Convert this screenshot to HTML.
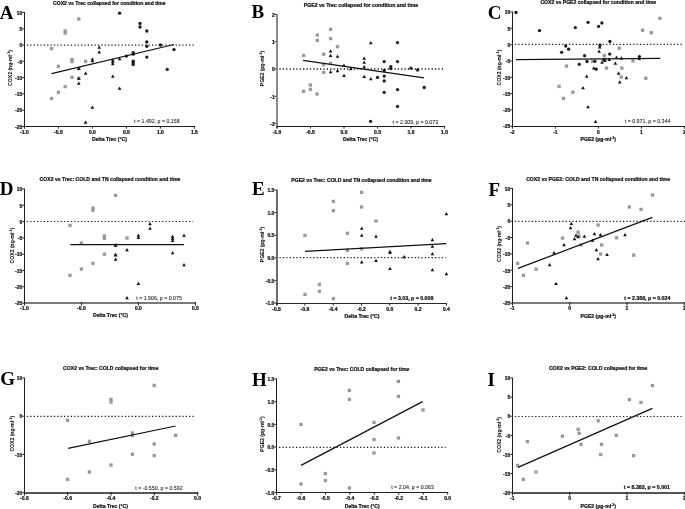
<!DOCTYPE html>
<html><head><meta charset="utf-8"><title>Figure</title>
<style>
html,body{margin:0;padding:0;background:#fff;}
body{width:685px;height:509px;overflow:hidden;font-family:"Liberation Sans",sans-serif;}
svg{display:block;filter:grayscale(1);}
text{font-family:"Liberation Sans",sans-serif;}
</style></head><body>
<svg width="685" height="509" viewBox="0 0 685 509" font-family="Liberation Sans, sans-serif">
<rect width="685" height="509" fill="#fff"/>
<line x1="26.90" y1="45.10" x2="194.00" y2="45.10" stroke="#111" stroke-width="1.2" stroke-dasharray="1.2 2.18"/>
<rect x="49.95" y="46.95" width="3.3" height="3.3" fill="#999"/>
<rect x="77.15" y="17.35" width="3.3" height="3.3" fill="#999"/>
<rect x="63.55" y="29.35" width="3.3" height="3.3" fill="#999"/>
<rect x="63.55" y="31.35" width="3.3" height="3.3" fill="#999"/>
<rect x="56.75" y="64.75" width="3.3" height="3.3" fill="#999"/>
<rect x="70.35" y="57.95" width="3.3" height="3.3" fill="#999"/>
<rect x="70.35" y="59.95" width="3.3" height="3.3" fill="#999"/>
<rect x="83.95" y="59.65" width="3.3" height="3.3" fill="#999"/>
<rect x="70.35" y="75.75" width="3.3" height="3.3" fill="#999"/>
<rect x="63.55" y="84.95" width="3.3" height="3.3" fill="#999"/>
<rect x="56.75" y="90.65" width="3.3" height="3.3" fill="#999"/>
<rect x="49.95" y="96.85" width="3.3" height="3.3" fill="#999"/>
<rect x="77.15" y="67.05" width="3.3" height="3.3" fill="#999"/>
<rect x="77.15" y="76.75" width="3.3" height="3.3" fill="#999"/>
<circle cx="119.60" cy="13.20" r="1.65" fill="#1a1a1a"/>
<circle cx="140.00" cy="23.40" r="1.65" fill="#1a1a1a"/>
<circle cx="140.00" cy="27.00" r="1.65" fill="#1a1a1a"/>
<circle cx="146.80" cy="31.00" r="1.65" fill="#1a1a1a"/>
<circle cx="146.80" cy="42.00" r="1.65" fill="#1a1a1a"/>
<circle cx="146.80" cy="46.30" r="1.65" fill="#1a1a1a"/>
<circle cx="146.80" cy="57.10" r="1.65" fill="#1a1a1a"/>
<circle cx="160.40" cy="45.00" r="1.65" fill="#1a1a1a"/>
<circle cx="174.00" cy="49.60" r="1.65" fill="#1a1a1a"/>
<circle cx="167.20" cy="69.40" r="1.65" fill="#1a1a1a"/>
<circle cx="133.20" cy="52.60" r="1.65" fill="#1a1a1a"/>
<circle cx="133.20" cy="54.20" r="1.65" fill="#1a1a1a"/>
<circle cx="133.20" cy="61.10" r="1.65" fill="#1a1a1a"/>
<circle cx="133.20" cy="62.70" r="1.65" fill="#1a1a1a"/>
<circle cx="133.20" cy="64.50" r="1.65" fill="#1a1a1a"/>
<circle cx="126.40" cy="56.10" r="1.65" fill="#1a1a1a"/>
<path d="M99.20 45.42L101.00 48.66L97.40 48.66Z" fill="#111"/>
<path d="M99.20 50.32L101.00 53.56L97.40 53.56Z" fill="#111"/>
<path d="M92.40 57.22L94.20 60.46L90.60 60.46Z" fill="#111"/>
<path d="M92.40 58.92L94.20 62.16L90.60 62.16Z" fill="#111"/>
<path d="M78.80 66.82L80.60 70.06L77.00 70.06Z" fill="#111"/>
<path d="M78.80 76.52L80.60 79.76L77.00 79.76Z" fill="#111"/>
<path d="M78.80 81.52L80.60 84.76L77.00 84.76Z" fill="#111"/>
<path d="M85.60 71.42L87.40 74.66L83.80 74.66Z" fill="#111"/>
<path d="M112.80 58.22L114.60 61.46L111.00 61.46Z" fill="#111"/>
<path d="M112.80 60.12L114.60 63.36L111.00 63.36Z" fill="#111"/>
<path d="M112.80 62.02L114.60 65.26L111.00 65.26Z" fill="#111"/>
<path d="M112.80 74.62L114.60 77.86L111.00 77.86Z" fill="#111"/>
<path d="M119.60 57.02L121.40 60.26L117.80 60.26Z" fill="#111"/>
<path d="M119.60 86.52L121.40 89.76L117.80 89.76Z" fill="#111"/>
<path d="M92.40 105.42L94.20 108.66L90.60 108.66Z" fill="#111"/>
<path d="M85.60 120.42L87.40 123.66L83.80 123.66Z" fill="#111"/>
<line x1="51.6" y1="73.7" x2="174" y2="44.5" stroke="#111" stroke-width="1.25"/>
<rect x="24" y="11.90" width="1" height="116.50" fill="#1e1e1e"/>
<rect x="24.40" y="126" width="170.60" height="1" fill="#1e1e1e"/>
<rect x="22.40" y="11.90" width="1.8" height="1" fill="#222"/>
<text x="22.30" y="14.65" font-size="5.0" font-weight="bold" text-anchor="end" fill="#111" stroke="#111" stroke-width="0.22">10</text>
<rect x="22.40" y="28.19" width="1.8" height="1" fill="#222"/>
<text x="22.30" y="30.94" font-size="5.0" font-weight="bold" text-anchor="end" fill="#111" stroke="#111" stroke-width="0.22">5</text>
<rect x="22.40" y="44.47" width="1.8" height="1" fill="#222"/>
<text x="22.30" y="47.22" font-size="5.0" font-weight="bold" text-anchor="end" fill="#111" stroke="#111" stroke-width="0.22">0</text>
<rect x="22.40" y="60.76" width="1.8" height="1" fill="#222"/>
<text x="22.30" y="63.51" font-size="5.0" font-weight="bold" text-anchor="end" fill="#111" stroke="#111" stroke-width="0.22">-5</text>
<rect x="22.40" y="77.04" width="1.8" height="1" fill="#222"/>
<text x="22.30" y="79.79" font-size="5.0" font-weight="bold" text-anchor="end" fill="#111" stroke="#111" stroke-width="0.22">-10</text>
<rect x="22.40" y="93.33" width="1.8" height="1" fill="#222"/>
<text x="22.30" y="96.08" font-size="5.0" font-weight="bold" text-anchor="end" fill="#111" stroke="#111" stroke-width="0.22">-15</text>
<rect x="22.40" y="109.62" width="1.8" height="1" fill="#222"/>
<text x="22.30" y="112.37" font-size="5.0" font-weight="bold" text-anchor="end" fill="#111" stroke="#111" stroke-width="0.22">-20</text>
<rect x="22.40" y="125.90" width="1.8" height="1" fill="#222"/>
<text x="22.30" y="128.65" font-size="5.0" font-weight="bold" text-anchor="end" fill="#111" stroke="#111" stroke-width="0.22">-25</text>
<rect x="23.90" y="126.00" width="1" height="2.60" fill="#222"/>
<text x="24.40" y="134.05" font-size="5.0" font-weight="bold" text-anchor="middle" fill="#111" stroke="#111" stroke-width="0.22">-1.0</text>
<rect x="57.90" y="126.00" width="1" height="2.60" fill="#222"/>
<text x="58.40" y="134.05" font-size="5.0" font-weight="bold" text-anchor="middle" fill="#111" stroke="#111" stroke-width="0.22">-0.5</text>
<rect x="91.90" y="126.00" width="1" height="2.60" fill="#222"/>
<text x="92.40" y="134.05" font-size="5.0" font-weight="bold" text-anchor="middle" fill="#111" stroke="#111" stroke-width="0.22">0.0</text>
<rect x="125.90" y="126.00" width="1" height="2.60" fill="#222"/>
<text x="126.40" y="134.05" font-size="5.0" font-weight="bold" text-anchor="middle" fill="#111" stroke="#111" stroke-width="0.22">0.5</text>
<rect x="159.90" y="126.00" width="1" height="2.60" fill="#222"/>
<text x="160.40" y="134.05" font-size="5.0" font-weight="bold" text-anchor="middle" fill="#111" stroke="#111" stroke-width="0.22">1.0</text>
<rect x="193.90" y="126.00" width="1" height="2.60" fill="#222"/>
<text x="194.40" y="134.05" font-size="5.0" font-weight="bold" text-anchor="middle" fill="#111" stroke="#111" stroke-width="0.22">1.5</text>
<text x="53.00" y="4.79" font-size="5.1" font-weight="bold" text-anchor="start" fill="#111" stroke="#111" stroke-width="0.22">COX2 vs Trec collapsed for condition and time</text>
<text x="109.50" y="141.29" font-size="5.1" font-weight="bold" text-anchor="middle" fill="#111" stroke="#111" stroke-width="0.22">Delta Trec (°C)</text>
<text transform="translate(12.30,68.00) rotate(-90)" font-size="5.1" font-weight="bold" text-anchor="middle" fill="#111" stroke="#111" stroke-width="0.08">COX2 (ng·ml<tspan font-size="3.6" dy="-2">-1</tspan><tspan dy="2">)</tspan></text>
<text x="134.10" y="123.46" font-size="5.25" font-weight="normal" text-anchor="start" fill="#111" stroke="#111" stroke-width="0.06">t = 1.492, p = 0.158</text>
<text x="-0.2" y="18.5" style="font-family:'Liberation Serif',serif" font-size="19" font-weight="bold" fill="#000">A</text>
<line x1="279.50" y1="69.00" x2="444.50" y2="69.00" stroke="#111" stroke-width="1.6" stroke-dasharray="1.2 2.18"/>
<rect x="301.95" y="53.85" width="3.3" height="3.3" fill="#999"/>
<rect x="315.65" y="33.45" width="3.3" height="3.3" fill="#999"/>
<rect x="315.65" y="38.75" width="3.3" height="3.3" fill="#999"/>
<rect x="328.95" y="27.75" width="3.3" height="3.3" fill="#999"/>
<rect x="328.95" y="36.95" width="3.3" height="3.3" fill="#999"/>
<rect x="322.05" y="52.55" width="3.3" height="3.3" fill="#999"/>
<rect x="335.85" y="45.05" width="3.3" height="3.3" fill="#999"/>
<rect x="322.05" y="62.95" width="3.3" height="3.3" fill="#999"/>
<rect x="328.95" y="61.75" width="3.3" height="3.3" fill="#999"/>
<rect x="322.05" y="70.75" width="3.3" height="3.3" fill="#999"/>
<rect x="301.95" y="89.75" width="3.3" height="3.3" fill="#999"/>
<rect x="308.75" y="83.35" width="3.3" height="3.3" fill="#999"/>
<rect x="308.75" y="87.75" width="3.3" height="3.3" fill="#999"/>
<rect x="315.35" y="92.35" width="3.3" height="3.3" fill="#999"/>
<circle cx="370.60" cy="121.30" r="1.65" fill="#1a1a1a"/>
<circle cx="377.50" cy="77.40" r="1.65" fill="#1a1a1a"/>
<circle cx="384.20" cy="61.60" r="1.65" fill="#1a1a1a"/>
<circle cx="384.20" cy="70.40" r="1.65" fill="#1a1a1a"/>
<circle cx="384.20" cy="76.10" r="1.65" fill="#1a1a1a"/>
<circle cx="384.20" cy="80.90" r="1.65" fill="#1a1a1a"/>
<circle cx="384.20" cy="92.30" r="1.65" fill="#1a1a1a"/>
<circle cx="390.80" cy="66.60" r="1.65" fill="#1a1a1a"/>
<circle cx="390.80" cy="68.60" r="1.65" fill="#1a1a1a"/>
<circle cx="397.50" cy="42.60" r="1.65" fill="#1a1a1a"/>
<circle cx="397.50" cy="61.60" r="1.65" fill="#1a1a1a"/>
<circle cx="397.50" cy="89.60" r="1.65" fill="#1a1a1a"/>
<circle cx="397.50" cy="106.40" r="1.65" fill="#1a1a1a"/>
<circle cx="411.00" cy="68.20" r="1.65" fill="#1a1a1a"/>
<circle cx="417.60" cy="70.00" r="1.65" fill="#1a1a1a"/>
<circle cx="424.20" cy="87.50" r="1.65" fill="#1a1a1a"/>
<path d="M330.60 49.32L332.40 52.56L328.80 52.56Z" fill="#111"/>
<path d="M330.60 53.72L332.40 56.96L328.80 56.96Z" fill="#111"/>
<path d="M337.50 54.62L339.30 57.86L335.70 57.86Z" fill="#111"/>
<path d="M330.60 69.92L332.40 73.16L328.80 73.16Z" fill="#111"/>
<path d="M337.50 69.02L339.30 72.26L335.70 72.26Z" fill="#111"/>
<path d="M344.00 63.42L345.80 66.66L342.20 66.66Z" fill="#111"/>
<path d="M344.00 73.82L345.80 77.06L342.20 77.06Z" fill="#111"/>
<path d="M350.70 66.92L352.50 70.16L348.90 70.16Z" fill="#111"/>
<path d="M364.20 56.52L366.00 59.76L362.40 59.76Z" fill="#111"/>
<path d="M364.20 60.62L366.00 63.86L362.40 63.86Z" fill="#111"/>
<path d="M364.20 64.92L366.00 68.16L362.40 68.16Z" fill="#111"/>
<path d="M364.20 74.72L366.00 77.96L362.40 77.96Z" fill="#111"/>
<path d="M370.80 41.02L372.60 44.26L369.00 44.26Z" fill="#111"/>
<path d="M370.80 76.92L372.60 80.16L369.00 80.16Z" fill="#111"/>
<line x1="303" y1="60.4" x2="424" y2="77.8" stroke="#111" stroke-width="1.25"/>
<rect x="276" y="13.90" width="2" height="114.50" fill="#8a8a8a"/>
<rect x="277.00" y="126" width="168.10" height="1" fill="#1e1e1e"/>
<rect x="274.40" y="13.90" width="1.8" height="1" fill="#222"/>
<text x="274.80" y="16.65" font-size="5.0" font-weight="bold" text-anchor="end" fill="#111" stroke="#111" stroke-width="0.22">2</text>
<rect x="274.40" y="41.20" width="1.8" height="1" fill="#222"/>
<text x="274.80" y="43.95" font-size="5.0" font-weight="bold" text-anchor="end" fill="#111" stroke="#111" stroke-width="0.22">1</text>
<rect x="274.40" y="68.50" width="1.8" height="1" fill="#222"/>
<text x="274.80" y="71.25" font-size="5.0" font-weight="bold" text-anchor="end" fill="#111" stroke="#111" stroke-width="0.22">0</text>
<rect x="274.40" y="95.80" width="1.8" height="1" fill="#222"/>
<text x="274.80" y="98.55" font-size="5.0" font-weight="bold" text-anchor="end" fill="#111" stroke="#111" stroke-width="0.22">-1</text>
<rect x="274.40" y="123.10" width="1.8" height="1" fill="#222"/>
<text x="274.80" y="125.85" font-size="5.0" font-weight="bold" text-anchor="end" fill="#111" stroke="#111" stroke-width="0.22">-2</text>
<rect x="276.50" y="126.00" width="1" height="2.60" fill="#222"/>
<text x="277.00" y="133.85" font-size="5.0" font-weight="bold" text-anchor="middle" fill="#111" stroke="#111" stroke-width="0.22">-1.0</text>
<rect x="310.00" y="126.00" width="1" height="2.60" fill="#222"/>
<text x="310.50" y="133.85" font-size="5.0" font-weight="bold" text-anchor="middle" fill="#111" stroke="#111" stroke-width="0.22">-0.5</text>
<rect x="343.50" y="126.00" width="1" height="2.60" fill="#222"/>
<text x="344.00" y="133.85" font-size="5.0" font-weight="bold" text-anchor="middle" fill="#111" stroke="#111" stroke-width="0.22">0.0</text>
<rect x="377.00" y="126.00" width="1" height="2.60" fill="#222"/>
<text x="377.50" y="133.85" font-size="5.0" font-weight="bold" text-anchor="middle" fill="#111" stroke="#111" stroke-width="0.22">0.5</text>
<rect x="410.50" y="126.00" width="1" height="2.60" fill="#222"/>
<text x="411.00" y="133.85" font-size="5.0" font-weight="bold" text-anchor="middle" fill="#111" stroke="#111" stroke-width="0.22">1.0</text>
<rect x="444.00" y="126.00" width="1" height="2.60" fill="#222"/>
<text x="444.50" y="133.85" font-size="5.0" font-weight="bold" text-anchor="middle" fill="#111" stroke="#111" stroke-width="0.22">1.5</text>
<text x="303.70" y="6.64" font-size="5.2" font-weight="bold" text-anchor="start" fill="#111" stroke="#111" stroke-width="0.22">PGE2 vs Trec collapsed for condition and time</text>
<text x="360.50" y="140.99" font-size="5.1" font-weight="bold" text-anchor="middle" fill="#111" stroke="#111" stroke-width="0.22">Delta Trec (°C)</text>
<text transform="translate(264.30,68.50) rotate(-90)" font-size="5.1" font-weight="bold" text-anchor="middle" fill="#111" stroke="#111" stroke-width="0.08">PGE2 (pg·ml<tspan font-size="3.6" dy="-2">-1</tspan><tspan dy="2">)</tspan></text>
<text x="392.60" y="123.76" font-size="5.25" font-weight="normal" text-anchor="start" fill="#111" stroke="#111" stroke-width="0.06">t = 2.009, p = 0.073</text>
<text x="251.5" y="18.1" style="font-family:'Liberation Serif',serif" font-size="19" font-weight="bold" fill="#000">B</text>
<line x1="514.90" y1="44.45" x2="682.00" y2="44.45" stroke="#111" stroke-width="1.2" stroke-dasharray="1.2 2.18"/>
<rect x="658.15" y="16.65" width="3.3" height="3.3" fill="#999"/>
<rect x="640.85" y="28.55" width="3.3" height="3.3" fill="#999"/>
<rect x="649.65" y="31.05" width="3.3" height="3.3" fill="#999"/>
<rect x="617.55" y="46.55" width="3.3" height="3.3" fill="#999"/>
<rect x="602.65" y="53.75" width="3.3" height="3.3" fill="#999"/>
<rect x="603.35" y="57.65" width="3.3" height="3.3" fill="#999"/>
<rect x="590.95" y="59.55" width="3.3" height="3.3" fill="#999"/>
<rect x="604.85" y="66.45" width="3.3" height="3.3" fill="#999"/>
<rect x="631.35" y="59.25" width="3.3" height="3.3" fill="#999"/>
<rect x="620.25" y="66.45" width="3.3" height="3.3" fill="#999"/>
<rect x="619.55" y="75.45" width="3.3" height="3.3" fill="#999"/>
<rect x="644.15" y="76.55" width="3.3" height="3.3" fill="#999"/>
<rect x="557.45" y="84.75" width="3.3" height="3.3" fill="#999"/>
<rect x="561.85" y="96.75" width="3.3" height="3.3" fill="#999"/>
<rect x="564.85" y="64.45" width="3.3" height="3.3" fill="#999"/>
<rect x="571.25" y="90.55" width="3.3" height="3.3" fill="#999"/>
<circle cx="516.00" cy="12.40" r="1.65" fill="#1a1a1a"/>
<circle cx="539.50" cy="30.60" r="1.65" fill="#1a1a1a"/>
<circle cx="575.30" cy="27.60" r="1.65" fill="#1a1a1a"/>
<circle cx="588.10" cy="22.30" r="1.65" fill="#1a1a1a"/>
<circle cx="598.60" cy="26.40" r="1.65" fill="#1a1a1a"/>
<circle cx="601.90" cy="23.00" r="1.65" fill="#1a1a1a"/>
<circle cx="609.90" cy="41.50" r="1.65" fill="#1a1a1a"/>
<circle cx="565.70" cy="46.00" r="1.65" fill="#1a1a1a"/>
<circle cx="568.60" cy="49.20" r="1.65" fill="#1a1a1a"/>
<circle cx="561.60" cy="52.30" r="1.65" fill="#1a1a1a"/>
<circle cx="584.60" cy="55.70" r="1.65" fill="#1a1a1a"/>
<circle cx="579.30" cy="64.30" r="1.65" fill="#1a1a1a"/>
<circle cx="587.00" cy="61.50" r="1.65" fill="#1a1a1a"/>
<circle cx="600.00" cy="45.20" r="1.65" fill="#1a1a1a"/>
<circle cx="609.70" cy="54.10" r="1.65" fill="#1a1a1a"/>
<circle cx="596.20" cy="69.20" r="1.65" fill="#1a1a1a"/>
<circle cx="594.90" cy="61.30" r="1.65" fill="#1a1a1a"/>
<circle cx="639.40" cy="56.60" r="1.65" fill="#1a1a1a"/>
<path d="M599.70 45.32L601.50 48.56L597.90 48.56Z" fill="#111"/>
<path d="M599.10 49.62L600.90 52.86L597.30 52.86Z" fill="#111"/>
<path d="M603.50 57.62L605.30 60.86L601.70 60.86Z" fill="#111"/>
<path d="M604.80 58.82L606.60 62.06L603.00 62.06Z" fill="#111"/>
<path d="M602.00 60.62L603.80 63.86L600.20 63.86Z" fill="#111"/>
<path d="M593.80 66.22L595.60 69.46L592.00 69.46Z" fill="#111"/>
<path d="M586.70 74.42L588.50 77.66L584.90 77.66Z" fill="#111"/>
<path d="M616.50 55.52L618.30 58.76L614.70 58.76Z" fill="#111"/>
<path d="M621.40 56.22L623.20 59.46L619.60 59.46Z" fill="#111"/>
<path d="M615.30 61.62L617.10 64.86L613.50 64.86Z" fill="#111"/>
<path d="M618.60 71.42L620.40 74.66L616.80 74.66Z" fill="#111"/>
<path d="M619.70 80.22L621.50 83.46L617.90 83.46Z" fill="#111"/>
<path d="M583.00 86.12L584.80 89.36L581.20 89.36Z" fill="#111"/>
<path d="M588.00 105.12L589.80 108.36L586.20 108.36Z" fill="#111"/>
<path d="M595.60 119.72L597.40 122.96L593.80 122.96Z" fill="#111"/>
<path d="M626.40 76.12L628.20 79.36L624.60 79.36Z" fill="#111"/>
<path d="M609.20 57.72L611.00 60.96L607.40 60.96Z" fill="#111"/>
<path d="M639.40 56.72L641.20 59.96L637.60 59.96Z" fill="#111"/>
<line x1="516" y1="59.6" x2="660.4" y2="58.4" stroke="#111" stroke-width="1.25"/>
<rect x="512" y="11.50" width="1" height="116.80" fill="#1e1e1e"/>
<rect x="512.40" y="126" width="172.60" height="1" fill="#1e1e1e"/>
<rect x="510.40" y="11.50" width="1.8" height="1" fill="#222"/>
<text x="510.30" y="14.25" font-size="5.0" font-weight="bold" text-anchor="end" fill="#111" stroke="#111" stroke-width="0.22">10</text>
<rect x="510.40" y="27.81" width="1.8" height="1" fill="#222"/>
<text x="510.30" y="30.56" font-size="5.0" font-weight="bold" text-anchor="end" fill="#111" stroke="#111" stroke-width="0.22">5</text>
<rect x="510.40" y="44.13" width="1.8" height="1" fill="#222"/>
<text x="510.30" y="46.88" font-size="5.0" font-weight="bold" text-anchor="end" fill="#111" stroke="#111" stroke-width="0.22">0</text>
<rect x="510.40" y="60.44" width="1.8" height="1" fill="#222"/>
<text x="510.30" y="63.19" font-size="5.0" font-weight="bold" text-anchor="end" fill="#111" stroke="#111" stroke-width="0.22">-5</text>
<rect x="510.40" y="76.76" width="1.8" height="1" fill="#222"/>
<text x="510.30" y="79.51" font-size="5.0" font-weight="bold" text-anchor="end" fill="#111" stroke="#111" stroke-width="0.22">-10</text>
<rect x="510.40" y="93.07" width="1.8" height="1" fill="#222"/>
<text x="510.30" y="95.82" font-size="5.0" font-weight="bold" text-anchor="end" fill="#111" stroke="#111" stroke-width="0.22">-15</text>
<rect x="510.40" y="109.38" width="1.8" height="1" fill="#222"/>
<text x="510.30" y="112.13" font-size="5.0" font-weight="bold" text-anchor="end" fill="#111" stroke="#111" stroke-width="0.22">-20</text>
<rect x="510.40" y="125.70" width="1.8" height="1" fill="#222"/>
<text x="510.30" y="128.45" font-size="5.0" font-weight="bold" text-anchor="end" fill="#111" stroke="#111" stroke-width="0.22">-25</text>
<rect x="511.90" y="126.00" width="1" height="2.60" fill="#222"/>
<text x="512.40" y="133.55" font-size="5.0" font-weight="bold" text-anchor="middle" fill="#111" stroke="#111" stroke-width="0.22">-2</text>
<rect x="554.90" y="126.00" width="1" height="2.60" fill="#222"/>
<text x="555.40" y="133.55" font-size="5.0" font-weight="bold" text-anchor="middle" fill="#111" stroke="#111" stroke-width="0.22">-1</text>
<rect x="597.90" y="126.00" width="1" height="2.60" fill="#222"/>
<text x="598.40" y="133.55" font-size="5.0" font-weight="bold" text-anchor="middle" fill="#111" stroke="#111" stroke-width="0.22">0</text>
<rect x="640.90" y="126.00" width="1" height="2.60" fill="#222"/>
<text x="641.40" y="133.55" font-size="5.0" font-weight="bold" text-anchor="middle" fill="#111" stroke="#111" stroke-width="0.22">1</text>
<rect x="683.90" y="126.00" width="1" height="2.60" fill="#222"/>
<text x="684.40" y="133.55" font-size="5.0" font-weight="bold" text-anchor="middle" fill="#111" stroke="#111" stroke-width="0.22">2</text>
<text x="540.40" y="3.90" font-size="5.1" font-weight="bold" text-anchor="start" fill="#111" stroke="#111" stroke-width="0.22">COX2 vs PGE2 collapsed for condition and time</text>
<text x="598.30" y="141.29" font-size="5.1" font-weight="bold" text-anchor="middle" fill="#111" stroke="#111" stroke-width="0.22">PGE2 (pg·ml<tspan font-size="3.6" dy="-2">-1</tspan><tspan dy="2">)</tspan></text>
<text transform="translate(500.80,67.50) rotate(-90)" font-size="5.1" font-weight="bold" text-anchor="middle" fill="#111" stroke="#111" stroke-width="0.08">COX2 (ng·ml<tspan font-size="3.6" dy="-2">-1</tspan><tspan dy="2">)</tspan></text>
<text x="624.80" y="123.26" font-size="5.25" font-weight="normal" text-anchor="start" fill="#111" stroke="#111" stroke-width="0.06">t = 0.971, p = 0.344</text>
<text x="487.8" y="18.7" style="font-family:'Liberation Serif',serif" font-size="19" font-weight="bold" fill="#000">C</text>
<line x1="26.90" y1="221.50" x2="193.00" y2="221.50" stroke="#111" stroke-width="1.2" stroke-dasharray="1.2 2.18"/>
<rect x="68.35" y="223.75" width="3.3" height="3.3" fill="#999"/>
<rect x="79.75" y="241.35" width="3.3" height="3.3" fill="#999"/>
<rect x="91.35" y="206.35" width="3.3" height="3.3" fill="#999"/>
<rect x="91.35" y="208.55" width="3.3" height="3.3" fill="#999"/>
<rect x="113.95" y="193.75" width="3.3" height="3.3" fill="#999"/>
<rect x="102.75" y="234.35" width="3.3" height="3.3" fill="#999"/>
<rect x="102.75" y="236.75" width="3.3" height="3.3" fill="#999"/>
<rect x="125.35" y="236.35" width="3.3" height="3.3" fill="#999"/>
<rect x="102.75" y="252.55" width="3.3" height="3.3" fill="#999"/>
<rect x="91.35" y="261.75" width="3.3" height="3.3" fill="#999"/>
<rect x="79.75" y="267.35" width="3.3" height="3.3" fill="#999"/>
<rect x="68.35" y="273.75" width="3.3" height="3.3" fill="#999"/>
<rect x="113.95" y="243.65" width="3.3" height="3.3" fill="#999"/>
<rect x="113.95" y="253.55" width="3.3" height="3.3" fill="#999"/>
<path d="M115.60 243.52L117.40 246.76L113.80 246.76Z" fill="#111"/>
<path d="M115.60 253.12L117.40 256.36L113.80 256.36Z" fill="#111"/>
<path d="M115.60 257.52L117.40 260.76L113.80 260.76Z" fill="#111"/>
<path d="M127.00 248.12L128.80 251.36L125.20 251.36Z" fill="#111"/>
<path d="M127.00 296.12L128.80 299.36L125.20 299.36Z" fill="#111"/>
<path d="M138.40 233.52L140.20 236.76L136.60 236.76Z" fill="#111"/>
<path d="M138.40 235.72L140.20 238.96L136.60 238.96Z" fill="#111"/>
<path d="M138.40 281.82L140.20 285.06L136.60 285.06Z" fill="#111"/>
<path d="M150.00 222.12L151.80 225.36L148.20 225.36Z" fill="#111"/>
<path d="M150.00 226.52L151.80 229.76L148.20 229.76Z" fill="#111"/>
<path d="M172.60 234.72L174.40 237.96L170.80 237.96Z" fill="#111"/>
<path d="M172.60 236.72L174.40 239.96L170.80 239.96Z" fill="#111"/>
<path d="M172.60 238.72L174.40 241.96L170.80 241.96Z" fill="#111"/>
<path d="M172.60 251.12L174.40 254.36L170.80 254.36Z" fill="#111"/>
<path d="M184.00 233.52L185.80 236.76L182.20 236.76Z" fill="#111"/>
<path d="M184.00 263.12L185.80 266.36L182.20 266.36Z" fill="#111"/>
<line x1="70.4" y1="244.6" x2="184" y2="244.6" stroke="#111" stroke-width="1.25"/>
<rect x="24" y="188.50" width="1" height="116.50" fill="#1e1e1e"/>
<rect x="24.40" y="302" width="171.60" height="2" fill="#7a7a7a"/>
<rect x="22.40" y="188.50" width="1.8" height="1" fill="#222"/>
<text x="22.30" y="191.25" font-size="5.0" font-weight="bold" text-anchor="end" fill="#111" stroke="#111" stroke-width="0.22">10</text>
<rect x="22.40" y="204.79" width="1.8" height="1" fill="#222"/>
<text x="22.30" y="207.54" font-size="5.0" font-weight="bold" text-anchor="end" fill="#111" stroke="#111" stroke-width="0.22">5</text>
<rect x="22.40" y="221.07" width="1.8" height="1" fill="#222"/>
<text x="22.30" y="223.82" font-size="5.0" font-weight="bold" text-anchor="end" fill="#111" stroke="#111" stroke-width="0.22">0</text>
<rect x="22.40" y="237.36" width="1.8" height="1" fill="#222"/>
<text x="22.30" y="240.11" font-size="5.0" font-weight="bold" text-anchor="end" fill="#111" stroke="#111" stroke-width="0.22">-5</text>
<rect x="22.40" y="253.64" width="1.8" height="1" fill="#222"/>
<text x="22.30" y="256.39" font-size="5.0" font-weight="bold" text-anchor="end" fill="#111" stroke="#111" stroke-width="0.22">-10</text>
<rect x="22.40" y="269.93" width="1.8" height="1" fill="#222"/>
<text x="22.30" y="272.68" font-size="5.0" font-weight="bold" text-anchor="end" fill="#111" stroke="#111" stroke-width="0.22">-15</text>
<rect x="22.40" y="286.22" width="1.8" height="1" fill="#222"/>
<text x="22.30" y="288.97" font-size="5.0" font-weight="bold" text-anchor="end" fill="#111" stroke="#111" stroke-width="0.22">-20</text>
<rect x="22.40" y="302.50" width="1.8" height="1" fill="#222"/>
<text x="22.30" y="305.25" font-size="5.0" font-weight="bold" text-anchor="end" fill="#111" stroke="#111" stroke-width="0.22">-25</text>
<rect x="23.90" y="302.00" width="1" height="3.60" fill="#222"/>
<text x="24.40" y="310.45" font-size="5.0" font-weight="bold" text-anchor="middle" fill="#111" stroke="#111" stroke-width="0.22">-1.0</text>
<rect x="80.90" y="302.00" width="1" height="3.60" fill="#222"/>
<text x="81.40" y="310.45" font-size="5.0" font-weight="bold" text-anchor="middle" fill="#111" stroke="#111" stroke-width="0.22">-0.5</text>
<rect x="137.90" y="302.00" width="1" height="3.60" fill="#222"/>
<text x="138.40" y="310.45" font-size="5.0" font-weight="bold" text-anchor="middle" fill="#111" stroke="#111" stroke-width="0.22">0.0</text>
<rect x="194.90" y="302.00" width="1" height="3.60" fill="#222"/>
<text x="195.40" y="310.45" font-size="5.0" font-weight="bold" text-anchor="middle" fill="#111" stroke="#111" stroke-width="0.22">0.5</text>
<text x="39.60" y="180.89" font-size="5.1" font-weight="bold" text-anchor="start" fill="#111" stroke="#111" stroke-width="0.22">COX2 vs Trec: COLD and TN collapsed condition and time</text>
<text x="110.40" y="317.00" font-size="5.1" font-weight="bold" text-anchor="middle" fill="#111" stroke="#111" stroke-width="0.22">Delta Trec (°C)</text>
<text transform="translate(13.80,245.50) rotate(-90)" font-size="5.1" font-weight="bold" text-anchor="middle" fill="#111" stroke="#111" stroke-width="0.08">COX2 (ng·ml<tspan font-size="3.6" dy="-2">-1</tspan><tspan dy="2">)</tspan></text>
<text x="136.30" y="299.86" font-size="5.25" font-weight="normal" text-anchor="start" fill="#111" stroke="#111" stroke-width="0.06">t = 1.906, p = 0.075</text>
<text x="-0.3" y="195.0" style="font-family:'Liberation Serif',serif" font-size="19" font-weight="bold" fill="#000">D</text>
<line x1="279.50" y1="257.60" x2="445.60" y2="257.60" stroke="#111" stroke-width="1.2" stroke-dasharray="1.2 2.18"/>
<rect x="303.35" y="233.75" width="3.3" height="3.3" fill="#999"/>
<rect x="303.35" y="292.75" width="3.3" height="3.3" fill="#999"/>
<rect x="317.75" y="282.75" width="3.3" height="3.3" fill="#999"/>
<rect x="317.75" y="289.75" width="3.3" height="3.3" fill="#999"/>
<rect x="331.75" y="199.75" width="3.3" height="3.3" fill="#999"/>
<rect x="331.75" y="208.95" width="3.3" height="3.3" fill="#999"/>
<rect x="331.75" y="296.95" width="3.3" height="3.3" fill="#999"/>
<rect x="345.75" y="231.65" width="3.3" height="3.3" fill="#999"/>
<rect x="345.75" y="248.65" width="3.3" height="3.3" fill="#999"/>
<rect x="345.75" y="261.75" width="3.3" height="3.3" fill="#999"/>
<rect x="359.95" y="190.75" width="3.3" height="3.3" fill="#999"/>
<rect x="359.95" y="205.35" width="3.3" height="3.3" fill="#999"/>
<rect x="359.95" y="247.25" width="3.3" height="3.3" fill="#999"/>
<rect x="374.35" y="219.35" width="3.3" height="3.3" fill="#999"/>
<path d="M361.70 226.52L363.50 229.76L359.90 229.76Z" fill="#111"/>
<path d="M361.70 233.42L363.50 236.66L359.90 236.66Z" fill="#111"/>
<path d="M361.70 260.22L363.50 263.46L359.90 263.46Z" fill="#111"/>
<path d="M376.00 234.42L377.80 237.66L374.20 237.66Z" fill="#111"/>
<path d="M376.00 258.72L377.80 261.96L374.20 261.96Z" fill="#111"/>
<path d="M390.00 249.82L391.80 253.06L388.20 253.06Z" fill="#111"/>
<path d="M390.00 250.82L391.80 254.06L388.20 254.06Z" fill="#111"/>
<path d="M390.00 266.72L391.80 269.96L388.20 269.96Z" fill="#111"/>
<path d="M404.20 254.92L406.00 258.16L402.40 258.16Z" fill="#111"/>
<path d="M432.40 238.12L434.20 241.36L430.60 241.36Z" fill="#111"/>
<path d="M432.40 244.52L434.20 247.76L430.60 247.76Z" fill="#111"/>
<path d="M432.40 252.12L434.20 255.36L430.60 255.36Z" fill="#111"/>
<path d="M432.40 268.12L434.20 271.36L430.60 271.36Z" fill="#111"/>
<path d="M446.40 212.12L448.20 215.36L444.60 215.36Z" fill="#111"/>
<path d="M446.40 272.12L448.20 275.36L444.60 275.36Z" fill="#111"/>
<line x1="305" y1="251.4" x2="446.4" y2="243.6" stroke="#111" stroke-width="1.25"/>
<rect x="276" y="189.50" width="2" height="115.90" fill="#6a6a6a"/>
<rect x="277.00" y="303" width="170.00" height="1" fill="#2a2a2a"/>
<rect x="274.40" y="189.50" width="1.8" height="1" fill="#222"/>
<text x="274.40" y="192.25" font-size="5.0" font-weight="bold" text-anchor="end" fill="#111" stroke="#111" stroke-width="0.22">1.5</text>
<rect x="274.40" y="212.10" width="1.8" height="1" fill="#222"/>
<text x="274.40" y="214.85" font-size="5.0" font-weight="bold" text-anchor="end" fill="#111" stroke="#111" stroke-width="0.22">1.0</text>
<rect x="274.40" y="234.70" width="1.8" height="1" fill="#222"/>
<text x="274.40" y="237.45" font-size="5.0" font-weight="bold" text-anchor="end" fill="#111" stroke="#111" stroke-width="0.22">0.5</text>
<rect x="274.40" y="257.30" width="1.8" height="1" fill="#222"/>
<text x="274.40" y="260.05" font-size="5.0" font-weight="bold" text-anchor="end" fill="#111" stroke="#111" stroke-width="0.22">0.0</text>
<rect x="274.40" y="279.90" width="1.8" height="1" fill="#222"/>
<text x="274.40" y="282.65" font-size="5.0" font-weight="bold" text-anchor="end" fill="#111" stroke="#111" stroke-width="0.22">-0.5</text>
<rect x="274.40" y="302.50" width="1.8" height="1" fill="#222"/>
<text x="274.40" y="305.25" font-size="5.0" font-weight="bold" text-anchor="end" fill="#111" stroke="#111" stroke-width="0.22">-1.0</text>
<rect x="276.10" y="303.00" width="1" height="2.60" fill="#222"/>
<text x="276.60" y="310.65" font-size="5.0" font-weight="bold" text-anchor="middle" fill="#111" stroke="#111" stroke-width="0.22">-0.8</text>
<rect x="304.40" y="303.00" width="1" height="2.60" fill="#222"/>
<text x="304.90" y="310.65" font-size="5.0" font-weight="bold" text-anchor="middle" fill="#111" stroke="#111" stroke-width="0.22">-0.6</text>
<rect x="332.70" y="303.00" width="1" height="2.60" fill="#222"/>
<text x="333.20" y="310.65" font-size="5.0" font-weight="bold" text-anchor="middle" fill="#111" stroke="#111" stroke-width="0.22">-0.4</text>
<rect x="361.00" y="303.00" width="1" height="2.60" fill="#222"/>
<text x="361.50" y="310.65" font-size="5.0" font-weight="bold" text-anchor="middle" fill="#111" stroke="#111" stroke-width="0.22">-0.2</text>
<rect x="389.30" y="303.00" width="1" height="2.60" fill="#222"/>
<text x="389.80" y="310.65" font-size="5.0" font-weight="bold" text-anchor="middle" fill="#111" stroke="#111" stroke-width="0.22">0.0</text>
<rect x="417.60" y="303.00" width="1" height="2.60" fill="#222"/>
<text x="418.10" y="310.65" font-size="5.0" font-weight="bold" text-anchor="middle" fill="#111" stroke="#111" stroke-width="0.22">0.2</text>
<rect x="445.90" y="303.00" width="1" height="2.60" fill="#222"/>
<text x="446.40" y="310.65" font-size="5.0" font-weight="bold" text-anchor="middle" fill="#111" stroke="#111" stroke-width="0.22">0.4</text>
<text x="291.30" y="181.79" font-size="5.1" font-weight="bold" text-anchor="start" fill="#111" stroke="#111" stroke-width="0.22">PGE2 vs Trec: COLD and TN collapsed condition and time</text>
<text x="362.00" y="317.90" font-size="5.1" font-weight="bold" text-anchor="middle" fill="#111" stroke="#111" stroke-width="0.22">Delta Trec (°C)</text>
<text transform="translate(264.30,244.50) rotate(-90)" font-size="5.1" font-weight="bold" text-anchor="middle" fill="#111" stroke="#111" stroke-width="0.08">PGE2 (pg·ml<tspan font-size="3.6" dy="-2">-1</tspan><tspan dy="2">)</tspan></text>
<text x="390.20" y="299.66" font-size="5.25" font-weight="bold" text-anchor="start" fill="#111" stroke="#111" stroke-width="0.22">t = 3.03, p = 0.008</text>
<text x="252" y="195.3" style="font-family:'Liberation Serif',serif" font-size="19" font-weight="bold" fill="#000">E</text>
<line x1="514.90" y1="221.40" x2="685.00" y2="221.40" stroke="#111" stroke-width="1.2" stroke-dasharray="1.2 2.18"/>
<rect x="650.85" y="193.35" width="3.3" height="3.3" fill="#999"/>
<rect x="627.65" y="205.35" width="3.3" height="3.3" fill="#999"/>
<rect x="639.45" y="207.75" width="3.3" height="3.3" fill="#999"/>
<rect x="596.45" y="223.35" width="3.3" height="3.3" fill="#999"/>
<rect x="576.45" y="230.55" width="3.3" height="3.3" fill="#999"/>
<rect x="577.45" y="234.45" width="3.3" height="3.3" fill="#999"/>
<rect x="560.85" y="236.45" width="3.3" height="3.3" fill="#999"/>
<rect x="579.45" y="243.35" width="3.3" height="3.3" fill="#999"/>
<rect x="614.85" y="236.15" width="3.3" height="3.3" fill="#999"/>
<rect x="600.05" y="243.35" width="3.3" height="3.3" fill="#999"/>
<rect x="599.05" y="252.35" width="3.3" height="3.3" fill="#999"/>
<rect x="632.05" y="253.45" width="3.3" height="3.3" fill="#999"/>
<rect x="515.95" y="261.65" width="3.3" height="3.3" fill="#999"/>
<rect x="521.85" y="273.75" width="3.3" height="3.3" fill="#999"/>
<rect x="525.85" y="241.35" width="3.3" height="3.3" fill="#999"/>
<rect x="534.45" y="267.55" width="3.3" height="3.3" fill="#999"/>
<path d="M549.60 263.12L551.40 266.36L547.80 266.36Z" fill="#111"/>
<path d="M554.00 251.12L555.80 254.36L552.20 254.36Z" fill="#111"/>
<path d="M556.00 281.72L557.80 284.96L554.20 284.96Z" fill="#111"/>
<path d="M564.00 243.12L565.80 246.36L562.20 246.36Z" fill="#111"/>
<path d="M566.40 296.12L568.20 299.36L564.60 299.36Z" fill="#111"/>
<path d="M571.40 221.72L573.20 224.96L569.60 224.96Z" fill="#111"/>
<path d="M570.60 226.12L572.40 229.36L568.80 229.36Z" fill="#111"/>
<path d="M576.00 233.62L577.80 236.86L574.20 236.86Z" fill="#111"/>
<path d="M574.50 237.12L576.30 240.36L572.70 240.36Z" fill="#111"/>
<path d="M578.00 235.12L579.80 238.36L576.20 238.36Z" fill="#111"/>
<path d="M584.40 234.52L586.20 237.76L582.60 237.76Z" fill="#111"/>
<path d="M594.40 232.12L596.20 235.36L592.60 235.36Z" fill="#111"/>
<path d="M600.40 233.12L602.20 236.36L598.60 236.36Z" fill="#111"/>
<path d="M625.00 233.12L626.80 236.36L623.20 236.36Z" fill="#111"/>
<path d="M596.40 247.92L598.20 251.16L594.60 251.16Z" fill="#111"/>
<path d="M598.00 257.12L599.80 260.36L596.20 260.36Z" fill="#111"/>
<path d="M607.00 252.72L608.80 255.96L605.20 255.96Z" fill="#111"/>
<path d="M592.60 238.52L594.40 241.76L590.80 241.76Z" fill="#111"/>
<line x1="518" y1="268.4" x2="652.4" y2="217.4" stroke="#111" stroke-width="1.25"/>
<rect x="512" y="187.90" width="1" height="117.10" fill="#1e1e1e"/>
<rect x="512.40" y="302" width="172.50" height="2" fill="#7a7a7a"/>
<rect x="510.40" y="187.90" width="1.8" height="1" fill="#222"/>
<text x="510.30" y="190.65" font-size="5.0" font-weight="bold" text-anchor="end" fill="#111" stroke="#111" stroke-width="0.22">10</text>
<rect x="510.40" y="204.27" width="1.8" height="1" fill="#222"/>
<text x="510.30" y="207.02" font-size="5.0" font-weight="bold" text-anchor="end" fill="#111" stroke="#111" stroke-width="0.22">5</text>
<rect x="510.40" y="220.64" width="1.8" height="1" fill="#222"/>
<text x="510.30" y="223.39" font-size="5.0" font-weight="bold" text-anchor="end" fill="#111" stroke="#111" stroke-width="0.22">0</text>
<rect x="510.40" y="237.01" width="1.8" height="1" fill="#222"/>
<text x="510.30" y="239.76" font-size="5.0" font-weight="bold" text-anchor="end" fill="#111" stroke="#111" stroke-width="0.22">-5</text>
<rect x="510.40" y="253.38" width="1.8" height="1" fill="#222"/>
<text x="510.30" y="256.13" font-size="5.0" font-weight="bold" text-anchor="end" fill="#111" stroke="#111" stroke-width="0.22">-10</text>
<rect x="510.40" y="269.75" width="1.8" height="1" fill="#222"/>
<text x="510.30" y="272.50" font-size="5.0" font-weight="bold" text-anchor="end" fill="#111" stroke="#111" stroke-width="0.22">-15</text>
<rect x="510.40" y="286.13" width="1.8" height="1" fill="#222"/>
<text x="510.30" y="288.88" font-size="5.0" font-weight="bold" text-anchor="end" fill="#111" stroke="#111" stroke-width="0.22">-20</text>
<rect x="510.40" y="302.50" width="1.8" height="1" fill="#222"/>
<text x="510.30" y="305.25" font-size="5.0" font-weight="bold" text-anchor="end" fill="#111" stroke="#111" stroke-width="0.22">-25</text>
<rect x="511.90" y="302.00" width="1" height="3.60" fill="#222"/>
<text x="512.40" y="310.45" font-size="5.0" font-weight="bold" text-anchor="middle" fill="#111" stroke="#111" stroke-width="0.22">-1</text>
<rect x="569.20" y="302.00" width="1" height="3.60" fill="#222"/>
<text x="569.70" y="310.45" font-size="5.0" font-weight="bold" text-anchor="middle" fill="#111" stroke="#111" stroke-width="0.22">0</text>
<rect x="626.50" y="302.00" width="1" height="3.60" fill="#222"/>
<text x="627.00" y="310.45" font-size="5.0" font-weight="bold" text-anchor="middle" fill="#111" stroke="#111" stroke-width="0.22">1</text>
<rect x="683.80" y="302.00" width="1" height="3.60" fill="#222"/>
<text x="684.30" y="310.45" font-size="5.0" font-weight="bold" text-anchor="middle" fill="#111" stroke="#111" stroke-width="0.22">2</text>
<text x="526.20" y="180.79" font-size="5.1" font-weight="bold" text-anchor="start" fill="#111" stroke="#111" stroke-width="0.22">COX2 vs PGE2: COLD and TN collapsed condition and time</text>
<text x="598.30" y="317.90" font-size="5.1" font-weight="bold" text-anchor="middle" fill="#111" stroke="#111" stroke-width="0.22">PGE2 (pg·ml<tspan font-size="3.6" dy="-2">-1</tspan><tspan dy="2">)</tspan></text>
<text transform="translate(500.80,244.00) rotate(-90)" font-size="5.1" font-weight="bold" text-anchor="middle" fill="#111" stroke="#111" stroke-width="0.08">COX2 (ng·ml<tspan font-size="3.6" dy="-2">-1</tspan><tspan dy="2">)</tspan></text>
<text x="624.20" y="299.76" font-size="5.25" font-weight="bold" text-anchor="start" fill="#111" stroke="#111" stroke-width="0.22">t = 2.388, p = 0.024</text>
<text x="488.6" y="195.6" style="font-family:'Liberation Serif',serif" font-size="19" font-weight="bold" fill="#000">F</text>
<line x1="26.90" y1="416.30" x2="194.60" y2="416.30" stroke="#111" stroke-width="1.2" stroke-dasharray="1.2 2.18"/>
<rect x="65.95" y="418.65" width="3.3" height="3.3" fill="#999"/>
<rect x="87.75" y="439.65" width="3.3" height="3.3" fill="#999"/>
<rect x="109.35" y="397.75" width="3.3" height="3.3" fill="#999"/>
<rect x="109.35" y="400.35" width="3.3" height="3.3" fill="#999"/>
<rect x="130.75" y="431.35" width="3.3" height="3.3" fill="#999"/>
<rect x="130.75" y="433.95" width="3.3" height="3.3" fill="#999"/>
<rect x="130.75" y="452.55" width="3.3" height="3.3" fill="#999"/>
<rect x="152.55" y="383.75" width="3.3" height="3.3" fill="#999"/>
<rect x="152.55" y="442.35" width="3.3" height="3.3" fill="#999"/>
<rect x="152.55" y="453.95" width="3.3" height="3.3" fill="#999"/>
<rect x="173.95" y="433.75" width="3.3" height="3.3" fill="#999"/>
<rect x="87.75" y="470.35" width="3.3" height="3.3" fill="#999"/>
<rect x="65.95" y="477.75" width="3.3" height="3.3" fill="#999"/>
<rect x="109.35" y="463.35" width="3.3" height="3.3" fill="#999"/>
<line x1="68" y1="448.4" x2="175.6" y2="426" stroke="#111" stroke-width="1.25"/>
<rect x="24" y="377.50" width="1" height="117.10" fill="#1e1e1e"/>
<rect x="24.40" y="492" width="173.80" height="2" fill="#555"/>
<rect x="22.40" y="377.50" width="1.8" height="1" fill="#222"/>
<text x="22.30" y="380.25" font-size="5.0" font-weight="bold" text-anchor="end" fill="#111" stroke="#111" stroke-width="0.22">10</text>
<rect x="22.40" y="415.70" width="1.8" height="1" fill="#222"/>
<text x="22.30" y="418.45" font-size="5.0" font-weight="bold" text-anchor="end" fill="#111" stroke="#111" stroke-width="0.22">0</text>
<rect x="22.40" y="453.90" width="1.8" height="1" fill="#222"/>
<text x="22.30" y="456.65" font-size="5.0" font-weight="bold" text-anchor="end" fill="#111" stroke="#111" stroke-width="0.22">-10</text>
<rect x="22.40" y="492.10" width="1.8" height="1" fill="#222"/>
<text x="22.30" y="494.85" font-size="5.0" font-weight="bold" text-anchor="end" fill="#111" stroke="#111" stroke-width="0.22">-20</text>
<rect x="23.90" y="492.00" width="1" height="3.60" fill="#222"/>
<text x="24.40" y="500.45" font-size="5.0" font-weight="bold" text-anchor="middle" fill="#111" stroke="#111" stroke-width="0.22">-0.8</text>
<rect x="67.20" y="492.00" width="1" height="3.60" fill="#222"/>
<text x="67.70" y="500.45" font-size="5.0" font-weight="bold" text-anchor="middle" fill="#111" stroke="#111" stroke-width="0.22">-0.6</text>
<rect x="110.50" y="492.00" width="1" height="3.60" fill="#222"/>
<text x="111.00" y="500.45" font-size="5.0" font-weight="bold" text-anchor="middle" fill="#111" stroke="#111" stroke-width="0.22">-0.4</text>
<rect x="153.80" y="492.00" width="1" height="3.60" fill="#222"/>
<text x="154.30" y="500.45" font-size="5.0" font-weight="bold" text-anchor="middle" fill="#111" stroke="#111" stroke-width="0.22">-0.2</text>
<rect x="197.10" y="492.00" width="1" height="3.60" fill="#222"/>
<text x="197.60" y="500.45" font-size="5.0" font-weight="bold" text-anchor="middle" fill="#111" stroke="#111" stroke-width="0.22">0.0</text>
<text x="63.10" y="369.80" font-size="5.1" font-weight="bold" text-anchor="start" fill="#111" stroke="#111" stroke-width="0.22">COX2 vs Trec: COLD collapsed for time</text>
<text x="110.50" y="507.90" font-size="5.1" font-weight="bold" text-anchor="middle" fill="#111" stroke="#111" stroke-width="0.22">Delta Trec (°C)</text>
<text transform="translate(13.80,433.70) rotate(-90)" font-size="5.1" font-weight="bold" text-anchor="middle" fill="#111" stroke="#111" stroke-width="0.08">COX2 (ng·ml<tspan font-size="3.6" dy="-2">-1</tspan><tspan dy="2">)</tspan></text>
<text x="135.30" y="489.76" font-size="5.25" font-weight="normal" text-anchor="start" fill="#111" stroke="#111" stroke-width="0.06">t = -0.550, p = 0.592</text>
<text x="0.3" y="384.9" style="font-family:'Liberation Serif',serif" font-size="19" font-weight="bold" fill="#000">G</text>
<line x1="279.10" y1="447.30" x2="445.60" y2="447.30" stroke="#111" stroke-width="1.2" stroke-dasharray="1.2 2.18"/>
<rect x="299.35" y="422.75" width="3.3" height="3.3" fill="#999"/>
<rect x="347.75" y="388.75" width="3.3" height="3.3" fill="#999"/>
<rect x="347.75" y="397.75" width="3.3" height="3.3" fill="#999"/>
<rect x="372.35" y="420.75" width="3.3" height="3.3" fill="#999"/>
<rect x="372.35" y="437.95" width="3.3" height="3.3" fill="#999"/>
<rect x="372.35" y="451.35" width="3.3" height="3.3" fill="#999"/>
<rect x="396.75" y="379.75" width="3.3" height="3.3" fill="#999"/>
<rect x="396.75" y="394.75" width="3.3" height="3.3" fill="#999"/>
<rect x="396.75" y="436.35" width="3.3" height="3.3" fill="#999"/>
<rect x="421.35" y="408.35" width="3.3" height="3.3" fill="#999"/>
<rect x="299.35" y="482.35" width="3.3" height="3.3" fill="#999"/>
<rect x="323.75" y="471.95" width="3.3" height="3.3" fill="#999"/>
<rect x="323.75" y="478.95" width="3.3" height="3.3" fill="#999"/>
<rect x="347.75" y="486.35" width="3.3" height="3.3" fill="#999"/>
<line x1="301" y1="465.4" x2="422.6" y2="401.6" stroke="#111" stroke-width="1.25"/>
<rect x="276" y="378.50" width="1" height="115.90" fill="#1e1e1e"/>
<rect x="276.40" y="492" width="171.81" height="1" fill="#1e1e1e"/>
<rect x="274.40" y="378.50" width="1.8" height="1" fill="#222"/>
<text x="274.40" y="381.25" font-size="5.0" font-weight="bold" text-anchor="end" fill="#111" stroke="#111" stroke-width="0.22">1.5</text>
<rect x="274.40" y="401.18" width="1.8" height="1" fill="#222"/>
<text x="274.40" y="403.93" font-size="5.0" font-weight="bold" text-anchor="end" fill="#111" stroke="#111" stroke-width="0.22">1.0</text>
<rect x="274.40" y="423.86" width="1.8" height="1" fill="#222"/>
<text x="274.40" y="426.61" font-size="5.0" font-weight="bold" text-anchor="end" fill="#111" stroke="#111" stroke-width="0.22">0.5</text>
<rect x="274.40" y="446.54" width="1.8" height="1" fill="#222"/>
<text x="274.40" y="449.29" font-size="5.0" font-weight="bold" text-anchor="end" fill="#111" stroke="#111" stroke-width="0.22">0.0</text>
<rect x="274.40" y="469.22" width="1.8" height="1" fill="#222"/>
<text x="274.40" y="471.97" font-size="5.0" font-weight="bold" text-anchor="end" fill="#111" stroke="#111" stroke-width="0.22">-0.5</text>
<rect x="274.40" y="491.90" width="1.8" height="1" fill="#222"/>
<text x="274.40" y="494.65" font-size="5.0" font-weight="bold" text-anchor="end" fill="#111" stroke="#111" stroke-width="0.22">-1.0</text>
<rect x="276.10" y="492.00" width="1" height="2.60" fill="#222"/>
<text x="276.60" y="500.25" font-size="5.0" font-weight="bold" text-anchor="middle" fill="#111" stroke="#111" stroke-width="0.22">-0.7</text>
<rect x="300.53" y="492.00" width="1" height="2.60" fill="#222"/>
<text x="301.03" y="500.25" font-size="5.0" font-weight="bold" text-anchor="middle" fill="#111" stroke="#111" stroke-width="0.22">-0.6</text>
<rect x="324.96" y="492.00" width="1" height="2.60" fill="#222"/>
<text x="325.46" y="500.25" font-size="5.0" font-weight="bold" text-anchor="middle" fill="#111" stroke="#111" stroke-width="0.22">-0.5</text>
<rect x="349.39" y="492.00" width="1" height="2.60" fill="#222"/>
<text x="349.89" y="500.25" font-size="5.0" font-weight="bold" text-anchor="middle" fill="#111" stroke="#111" stroke-width="0.22">-0.4</text>
<rect x="373.82" y="492.00" width="1" height="2.60" fill="#222"/>
<text x="374.32" y="500.25" font-size="5.0" font-weight="bold" text-anchor="middle" fill="#111" stroke="#111" stroke-width="0.22">-0.3</text>
<rect x="398.25" y="492.00" width="1" height="2.60" fill="#222"/>
<text x="398.75" y="500.25" font-size="5.0" font-weight="bold" text-anchor="middle" fill="#111" stroke="#111" stroke-width="0.22">-0.2</text>
<rect x="422.68" y="492.00" width="1" height="2.60" fill="#222"/>
<text x="423.18" y="500.25" font-size="5.0" font-weight="bold" text-anchor="middle" fill="#111" stroke="#111" stroke-width="0.22">-0.1</text>
<rect x="447.11" y="492.00" width="1" height="2.60" fill="#222"/>
<text x="447.61" y="500.25" font-size="5.0" font-weight="bold" text-anchor="middle" fill="#111" stroke="#111" stroke-width="0.22">0.0</text>
<text x="314.20" y="370.60" font-size="5.1" font-weight="bold" text-anchor="start" fill="#111" stroke="#111" stroke-width="0.22">PGE2 vs Trec: COLD collapsed for time</text>
<text x="362.20" y="507.90" font-size="5.1" font-weight="bold" text-anchor="middle" fill="#111" stroke="#111" stroke-width="0.22">Delta Trec (°C)</text>
<text transform="translate(264.30,434.00) rotate(-90)" font-size="5.1" font-weight="bold" text-anchor="middle" fill="#111" stroke="#111" stroke-width="0.08">PGE2 (pg·ml<tspan font-size="3.6" dy="-2">-1</tspan><tspan dy="2">)</tspan></text>
<text x="391.20" y="489.36" font-size="5.25" font-weight="normal" text-anchor="start" fill="#111" stroke="#111" stroke-width="0.06">t = 2.04, p = 0.063</text>
<text x="252" y="385.7" style="font-family:'Liberation Serif',serif" font-size="19" font-weight="bold" fill="#000">H</text>
<line x1="514.90" y1="416.50" x2="681.60" y2="416.50" stroke="#111" stroke-width="1.2" stroke-dasharray="1.2 2.18"/>
<rect x="650.75" y="383.95" width="3.3" height="3.3" fill="#999"/>
<rect x="627.75" y="397.95" width="3.3" height="3.3" fill="#999"/>
<rect x="639.35" y="400.75" width="3.3" height="3.3" fill="#999"/>
<rect x="596.55" y="419.15" width="3.3" height="3.3" fill="#999"/>
<rect x="576.55" y="427.65" width="3.3" height="3.3" fill="#999"/>
<rect x="577.55" y="431.75" width="3.3" height="3.3" fill="#999"/>
<rect x="560.75" y="434.55" width="3.3" height="3.3" fill="#999"/>
<rect x="579.45" y="442.65" width="3.3" height="3.3" fill="#999"/>
<rect x="614.65" y="433.75" width="3.3" height="3.3" fill="#999"/>
<rect x="599.85" y="442.65" width="3.3" height="3.3" fill="#999"/>
<rect x="599.05" y="452.85" width="3.3" height="3.3" fill="#999"/>
<rect x="631.95" y="453.95" width="3.3" height="3.3" fill="#999"/>
<rect x="515.95" y="463.75" width="3.3" height="3.3" fill="#999"/>
<rect x="521.75" y="477.75" width="3.3" height="3.3" fill="#999"/>
<rect x="525.75" y="439.95" width="3.3" height="3.3" fill="#999"/>
<rect x="534.35" y="470.35" width="3.3" height="3.3" fill="#999"/>
<line x1="518" y1="467.4" x2="652.4" y2="408.4" stroke="#111" stroke-width="1.25"/>
<rect x="512" y="377.50" width="1" height="117.10" fill="#1e1e1e"/>
<rect x="512.40" y="492" width="172.50" height="2" fill="#555"/>
<rect x="510.40" y="377.50" width="1.8" height="1" fill="#222"/>
<text x="510.30" y="380.25" font-size="5.0" font-weight="bold" text-anchor="end" fill="#111" stroke="#111" stroke-width="0.22">10</text>
<rect x="510.40" y="396.60" width="1.8" height="1" fill="#222"/>
<text x="510.30" y="399.35" font-size="5.0" font-weight="bold" text-anchor="end" fill="#111" stroke="#111" stroke-width="0.22">5</text>
<rect x="510.40" y="415.70" width="1.8" height="1" fill="#222"/>
<text x="510.30" y="418.45" font-size="5.0" font-weight="bold" text-anchor="end" fill="#111" stroke="#111" stroke-width="0.22">0</text>
<rect x="510.40" y="434.80" width="1.8" height="1" fill="#222"/>
<text x="510.30" y="437.55" font-size="5.0" font-weight="bold" text-anchor="end" fill="#111" stroke="#111" stroke-width="0.22">-5</text>
<rect x="510.40" y="453.90" width="1.8" height="1" fill="#222"/>
<text x="510.30" y="456.65" font-size="5.0" font-weight="bold" text-anchor="end" fill="#111" stroke="#111" stroke-width="0.22">-10</text>
<rect x="510.40" y="473.00" width="1.8" height="1" fill="#222"/>
<text x="510.30" y="475.75" font-size="5.0" font-weight="bold" text-anchor="end" fill="#111" stroke="#111" stroke-width="0.22">-15</text>
<rect x="510.40" y="492.10" width="1.8" height="1" fill="#222"/>
<text x="510.30" y="494.85" font-size="5.0" font-weight="bold" text-anchor="end" fill="#111" stroke="#111" stroke-width="0.22">-20</text>
<rect x="511.90" y="492.00" width="1" height="3.60" fill="#222"/>
<text x="512.40" y="500.45" font-size="5.0" font-weight="bold" text-anchor="middle" fill="#111" stroke="#111" stroke-width="0.22">-1</text>
<rect x="569.20" y="492.00" width="1" height="3.60" fill="#222"/>
<text x="569.70" y="500.45" font-size="5.0" font-weight="bold" text-anchor="middle" fill="#111" stroke="#111" stroke-width="0.22">0</text>
<rect x="626.50" y="492.00" width="1" height="3.60" fill="#222"/>
<text x="627.00" y="500.45" font-size="5.0" font-weight="bold" text-anchor="middle" fill="#111" stroke="#111" stroke-width="0.22">1</text>
<rect x="683.80" y="492.00" width="1" height="3.60" fill="#222"/>
<text x="684.30" y="500.45" font-size="5.0" font-weight="bold" text-anchor="middle" fill="#111" stroke="#111" stroke-width="0.22">2</text>
<text x="548.90" y="370.39" font-size="5.1" font-weight="bold" text-anchor="start" fill="#111" stroke="#111" stroke-width="0.22">COX2 vs PGE2: COLD collapsed for time</text>
<text x="598.30" y="507.90" font-size="5.1" font-weight="bold" text-anchor="middle" fill="#111" stroke="#111" stroke-width="0.22">PGE2 (pg·ml<tspan font-size="3.6" dy="-2">-1</tspan><tspan dy="2">)</tspan></text>
<text transform="translate(500.80,434.80) rotate(-90)" font-size="5.1" font-weight="bold" text-anchor="middle" fill="#111" stroke="#111" stroke-width="0.08">COX2 (ng·ml<tspan font-size="3.6" dy="-2">-1</tspan><tspan dy="2">)</tspan></text>
<text x="623.80" y="489.36" font-size="5.25" font-weight="bold" text-anchor="start" fill="#111" stroke="#111" stroke-width="0.22">t = 8.383, p = 0.001</text>
<text x="487.4" y="385.5" style="font-family:'Liberation Serif',serif" font-size="19" font-weight="bold" fill="#000">I</text>
</svg>
</body></html>
